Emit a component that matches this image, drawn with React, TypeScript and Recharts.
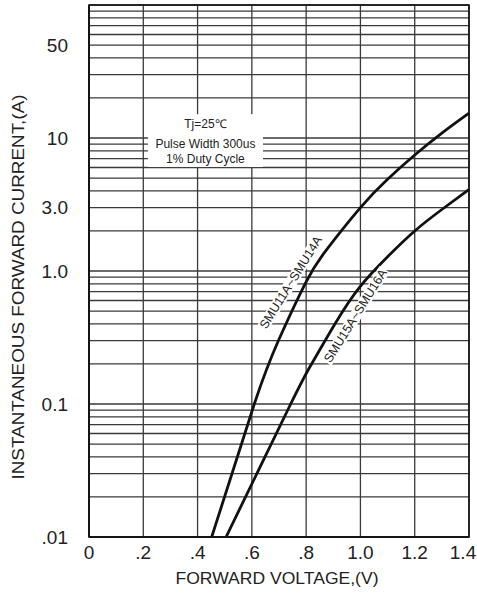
import React from 'react';
import {
  LineChart,
  Line,
  XAxis,
  YAxis,
  CartesianGrid,
  ReferenceArea,
  ReferenceDot,
} from 'recharts';

// forward voltage (V) vs instantaneous forward current (A)
const smu11to14Volts = [0.452, 0.609, 0.698, 0.796, 0.87, 1.0, 1.1, 1.2, 1.3, 1.4];
const smu11to14Amps = [0.01, 0.1, 0.3, 0.8, 1.4, 3.0, 4.9, 7.45, 10.9, 15.4];
const smu15to16Volts = [0.505, 0.743, 0.82, 0.906, 0.998, 1.1, 1.2, 1.3, 1.4];
const smu15to16Amps = [0.01, 0.1, 0.2, 0.4, 0.76, 1.28, 2.0, 2.9, 4.1];

const xTicks = [0, 0.2, 0.4, 0.6, 0.8, 1.0, 1.2, 1.4];
const xTickLabels = ['0', '.2', '.4', '.6', '.8', '1.0', '1.2', '1.4'];
const yTickValues = [0.01, 0.1, 1, 3, 10, 50];
const yTickLabels = ['.01', '0.1', '1.0', '3.0', '10', '50'];
const decades = [0.01, 0.1, 1, 10];
const multiples = [1, 2, 3, 4, 5, 6, 7, 8, 9];
const noteLines = ['Tj=25\u2103', 'Pulse Width 300us', '1% Duty Cycle'];
const curveNames = ['SMU11A~SMU14A', 'SMU15A~SMU16A'];

const FONT = '"Liberation Sans", Arial, sans-serif';
const INK = '#222';

const toPoints = (volts: number[], amps: number[]) =>
  volts.map((v, i) => ({ v, i: amps[i] }));

const yGridTicks = [...decades.flatMap((d) => multiples.map((m) => +(d * m).toPrecision(3))), 100];

const formatY = (val: number) => {
  const k = yTickValues.findIndex((t) => Math.abs(Math.log10(t) - Math.log10(val)) < 1e-6);
  return k >= 0 ? yTickLabels[k] : '';
};

// x tick labels; the last one is nudged left so it stays on the page
const XTick = (props: any) => {
  const { x, y, index } = props;
  const last = index === xTicks.length - 1;
  return (
    <text
      x={last ? x - 6 : x}
      y={y}
      dy='0.71em'
      textAnchor='middle'
      fontSize={19}
      fontFamily={FONT}
      fill={INK}
    >
      {xTickLabels[index]}
    </text>
  );
};

const CurveTag = (props: any) => {
  const { cx, cy, text } = props;
  return (
    <g transform={`translate(${cx},${cy}) rotate(-58)`}>
      <rect x={-55} y={-6} width={110} height={12} fill='#fff' />
      <text
        textAnchor='middle'
        dominantBaseline='central'
        fontSize={12.5}
        fontFamily={FONT}
        fill={INK}
      >
        {text}
      </text>
    </g>
  );
};

const NoteBox = (props: any) => {
  const { x, y, width, height } = props;
  const mid = x + width / 2;
  const rows = [10, 30, 45];
  return (
    <g>
      <rect x={x} y={y} width={width} height={height} fill='#fff' />
      {noteLines.map((line, k) => (
        <text
          key={line}
          x={mid}
          y={y + rows[k]}
          textAnchor='middle'
          dominantBaseline='central'
          fontSize={12}
          fontFamily={FONT}
          fill={INK}
        >
          {line}
        </text>
      ))}
    </g>
  );
};

export default function App() {
  return (
    <div style={{ position: 'absolute', left: 0, top: 0, background: '#fff' }}>
      <LineChart
        width={477}
        height={593}
        margin={{ top: 5, right: 8, left: 0, bottom: 0 }}
      >
        <CartesianGrid stroke='#3a3a3a' strokeWidth={1.3} />
        <XAxis
          type='number'
          dataKey='v'
          domain={[0, 1.4]}
          ticks={xTicks}
          interval={0}
          height={56}
          tickLine={false}
          tickMargin={3}
          axisLine={{ stroke: '#111', strokeWidth: 1.6 }}
          tick={<XTick />}
          label={{
            content: ({ viewBox }: any) => (
              <text
                x={viewBox.x + viewBox.width / 2 - 2}
                y={viewBox.y + 41}
                textAnchor='middle'
                dominantBaseline='central'
                fontSize={17}
                textLength={203}
                lengthAdjust='spacingAndGlyphs'
                fontFamily={FONT}
                fill={INK}
              >
                FORWARD VOLTAGE,(V)
              </text>
            ),
          }}
        />
        <YAxis
          type='number'
          scale='log'
          domain={[0.01, 100]}
          allowDataOverflow
          ticks={yGridTicks}
          tickFormatter={formatY}
          interval={0}
          width={89}
          tickLine={false}
          tickMargin={15}
          axisLine={{ stroke: '#111', strokeWidth: 1.6 }}
          tick={{ fill: INK, fontSize: 19, fontFamily: FONT }}
          label={{
            content: ({ viewBox }: any) => {
              const cx = viewBox.x + 18;
              const cy = viewBox.y + 282;
              return (
                <text
                  x={cx}
                  y={cy}
                  transform={`rotate(-90 ${cx} ${cy})`}
                  textAnchor='middle'
                  dominantBaseline='central'
                  fontSize={17}
                  textLength={385}
                  lengthAdjust='spacingAndGlyphs'
                  fontFamily={FONT}
                  fill={INK}
                >
                  INSTANTANEOUS FORWARD CURRENT,(A)
                </text>
              );
            },
          }}
        />
        <ReferenceArea
          x1={0}
          x2={1.4}
          y1={0.01}
          y2={100}
          fill='none'
          stroke='#111'
          strokeWidth={1.6}
        />
        <ReferenceArea
          x1={0.217}
          x2={0.641}
          y1={6.05}
          y2={15.1}
          shape={<NoteBox />}
        />
        <Line
          data={toPoints(smu11to14Volts, smu11to14Amps)}
          dataKey='i'
          type='natural'
          stroke='#111'
          strokeWidth={2.8}
          dot={false}
          isAnimationActive={false}
        />
        <Line
          data={toPoints(smu15to16Volts, smu15to16Amps)}
          dataKey='i'
          type='natural'
          stroke='#111'
          strokeWidth={2.8}
          dot={false}
          isAnimationActive={false}
        />
        <ReferenceDot x={0.744} y={0.82} r={0} shape={<CurveTag text={curveNames[0]} />} />
        <ReferenceDot x={0.982} y={0.46} r={0} shape={<CurveTag text={curveNames[1]} />} />
      </LineChart>
    </div>
  );
}
